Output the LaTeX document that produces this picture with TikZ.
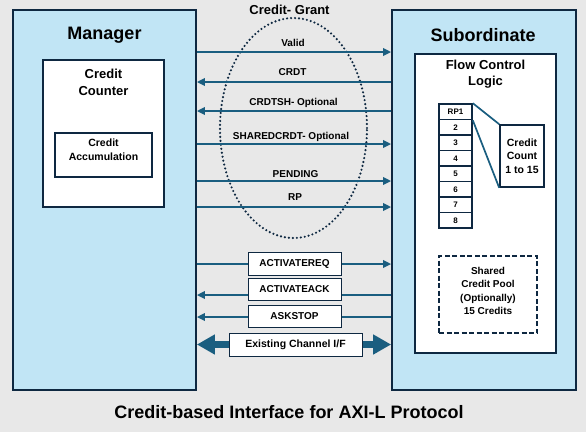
\documentclass[tikz,border=0pt]{standalone}
\usepackage{fontspec}
\setmainfont{Liberation Sans}
\usetikzlibrary{arrows.meta,shapes.geometric}
\definecolor{bg}{HTML}{E8E8E8}
\definecolor{boxblue}{HTML}{C1E5F5}
\definecolor{navy}{HTML}{0E2841}
\definecolor{sigc}{HTML}{1A5E80}
\begin{document}
\begin{tikzpicture}[x=1pt,y=-1pt,
 outer/.style={draw=navy,line width=1.8pt,fill=boxblue,inner sep=0pt},
 innerbox/.style={draw=navy,line width=2pt,fill=white,inner sep=0pt},
 lbl/.style={font=\bfseries\fontsize{10}{12}\selectfont,inner sep=0pt,text height=7.2pt,text depth=0pt},
 sig/.style={draw=sigc,line width=1.7pt,-{Triangle[length=8pt,width=7.5pt]}},
 sbox/.style={draw=navy,line width=1pt,fill=white,minimum width=93pt,minimum height=23pt,inner sep=0pt,font=\bfseries\fontsize{10}{12}\selectfont},
 cell/.style={draw=navy,line width=1.6pt,fill=white,minimum width=33pt,minimum height=15.5pt,inner sep=0pt,font=\bfseries\fontsize{8}{9}\selectfont},
 title/.style={font=\bfseries\fontsize{18}{20}\selectfont,inner sep=0pt}
]
\path[fill=bg] (0,0) rectangle (586,432);
\useasboundingbox (0,0) rectangle (586,432);

% Manager
\node[outer,minimum width=183pt,minimum height=380pt] (mgr) at (104.5,200) {};
\node[title] (mgrt) at (104.5,35) {Manager};
\node[innerbox,minimum width=121pt,minimum height=147pt] (cc) at (103.5,133.5) {};
\node[font=\bfseries\fontsize{13}{17}\selectfont,align=center,inner sep=0pt] (cct) at (103.5,82.5) {Credit\\Counter};
\node[innerbox,minimum width=97pt,minimum height=44pt] (ca) at (103.5,155) {};
\node[font=\bfseries\fontsize{10.5}{14}\selectfont,align=center,inner sep=0pt] (cat) at (103.5,150) {Credit\\Accumulation};

% Subordinate
\node[outer,minimum width=184pt,minimum height=380pt] (sub) at (484,200) {};
\node[title] (subt) at (483,35) {Subordinate};
\node[innerbox,minimum width=141pt,minimum height=299pt] (fcl) at (485.5,203.5) {};
\node[font=\bfseries\fontsize{13}{16}\selectfont,align=center,inner sep=0pt] (fclt) at (485.5,74) {Flow Control\\Logic};

% credit stack
\foreach \i/\t in {1/RP1,2/2,3/3,4/4,5/5,6/6,7/7,8/8}{
  \node[cell] (c\i) at (455.5,{104+15.5*(\i-0.5)}) {\t};
}
\node[draw=navy,line width=1.6pt,fill=white,minimum width=44pt,minimum height=62pt,inner sep=0pt,
  font=\bfseries\fontsize{10.5}{13.5}\selectfont,align=center] (ccount) at (522,156) {Credit\\Count\\1 to 15};
\draw[sigc,line width=1.7pt] (c1.north east) -- (ccount.north west);
\draw[sigc,line width=1.7pt] (c1.south east) -- (ccount.south west);

% shared pool
\node[draw=navy,line width=2pt,dash pattern=on 5pt off 2.5pt,minimum width=98pt,minimum height=77pt,inner sep=0pt] (pool) at (488,294.5) {};
\node[font=\bfseries\fontsize{10}{13.3}\selectfont,align=center,inner sep=0pt] (poolt) at (488,291) {Shared\\Credit Pool\\(Optionally)\\15 Credits};

% credit grant ellipse
\node[draw=navy,line width=2.4pt,line cap=round,dash pattern=on 0pt off 4pt,ellipse,minimum width=147pt,minimum height=220pt,inner sep=0pt] (grant) at (293.5,128) {};
\node[font=\bfseries\fontsize{13}{15}\selectfont,inner sep=0pt] (grantt) at (289.5,10) {Credit- Grant};

% signals
\draw[sig] (mgr.east |- 0,52) -- (sub.west |- 0,52);
\node[lbl] (lvalid) at (293,43.3) {Valid};
\draw[sig] (sub.west |- 0,82) -- (mgr.east |- 0,82);
\node[lbl] (lcrdt) at (292.5,72.3) {CRDT};
\draw[sig] (sub.west |- 0,111) -- (mgr.east |- 0,111);
\node[lbl] (lcrdtsh) at (293.5,101.7) {CRDTSH- Optional};
\draw[sig] (mgr.east |- 0,144) -- (sub.west |- 0,144);
\node[lbl] (lshared) at (291,135.7) {SHAREDCRDT- Optional};
\draw[sig] (mgr.east |- 0,181) -- (sub.west |- 0,181);
\node[lbl] (lpend) at (295.5,174) {PENDING};
\draw[sig] (mgr.east |- 0,207) -- (sub.west |- 0,207);
\node[lbl] (lrp) at (295,197.3) {RP};

% activation signals
\draw[sig] (mgr.east |- 0,264) -- (sub.west |- 0,264);
\node[sbox] (areq) at (294.5,263.5) {ACTIVATEREQ};
\draw[sig] (sub.west |- 0,295) -- (mgr.east |- 0,295);
\node[sbox,minimum height=22pt] (aack) at (294.5,289.5) {ACTIVATEACK};
\draw[sig] (sub.west |- 0,317) -- (mgr.east |- 0,317);
\node[sbox,minimum height=22pt] (astop) at (294.5,316.5) {ASKSTOP};

% existing channel
\draw[draw=sigc,line width=7pt,{Triangle[length=18pt,width=19pt]}-{Triangle[length=18pt,width=19pt]}] (mgr.east |- 0,344.5) -- (sub.west |- 0,344.5);
\node[sbox,minimum width=133pt,minimum height=23pt,font=\bfseries\fontsize{10.5}{12}\selectfont] (exist) at (295.5,345) {Existing Channel I/F};

% caption
\node[title] (cap) at (289,412) {Credit-based Interface for AXI-L Protocol};
\end{tikzpicture}
\end{document}
